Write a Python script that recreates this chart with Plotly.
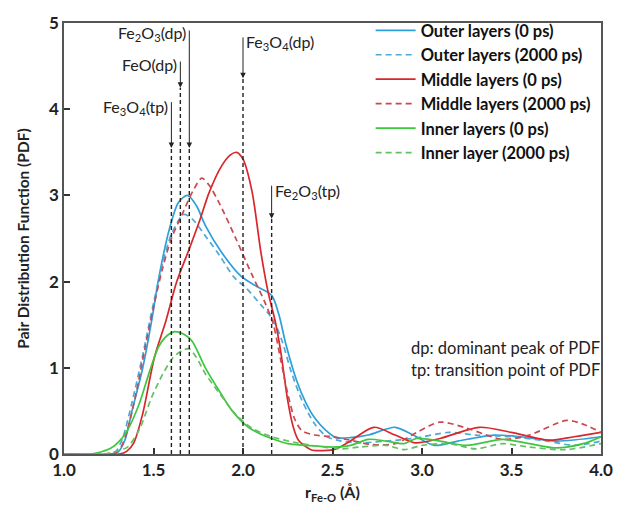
import plotly.graph_objects as go

# ---------------- data ----------------
outer_0_r = [1.0, 1.25, 1.30, 1.34, 1.38, 1.44, 1.49, 1.53, 1.59, 1.64, 1.69, 1.74, 1.79, 1.88, 1.99, 2.08, 2.16,
             2.20, 2.24, 2.30, 2.35, 2.40, 2.46, 2.52, 2.60, 2.70, 2.85, 2.95, 3.07, 3.20, 3.40, 3.55, 3.75, 4.0]
outer_0_v = [0, 0, 0.02, 0.16, 0.5, 1.0, 1.55, 2.05, 2.62, 2.92, 3.0, 2.88, 2.65, 2.34, 2.06, 1.94, 1.84,
             1.62, 1.27, 0.85, 0.6, 0.42, 0.28, 0.19, 0.19, 0.22, 0.31, 0.22, 0.1, 0.15, 0.22, 0.2, 0.15, 0.2]

outer_2000_r = [1.0, 1.25, 1.29, 1.33, 1.38, 1.44, 1.50, 1.55, 1.60, 1.67, 1.72, 1.80, 1.87, 1.95, 2.02, 2.10, 2.17,
                2.22, 2.27, 2.33, 2.40, 2.47, 2.55, 2.65, 2.80, 2.95, 3.15, 3.30, 3.50, 3.70, 3.85, 4.0]
outer_2000_v = [0, 0, 0.03, 0.2, 0.6, 1.15, 1.75, 2.2, 2.55, 2.78, 2.72, 2.5, 2.3, 2.05, 1.92, 1.73, 1.55,
                1.3, 0.95, 0.62, 0.35, 0.2, 0.15, 0.13, 0.15, 0.18, 0.25, 0.22, 0.2, 0.15, 0.1, 0.15]

middle_0_r = [1.0, 1.31, 1.35, 1.39, 1.44, 1.505, 1.57, 1.63, 1.70, 1.76, 1.81, 1.88, 1.93, 1.965, 2.0, 2.05, 2.10,
              2.14, 2.18, 2.21, 2.25, 2.28, 2.31, 2.38, 2.45, 2.52, 2.60, 2.73, 2.85, 2.96, 3.10, 3.32, 3.50, 3.71,
              3.85, 4.0]
middle_0_v = [0, 0, 0.03, 0.13, 0.47, 1.12, 1.55, 2.0, 2.38, 2.72, 3.03, 3.34, 3.47, 3.5, 3.42, 3.05, 2.34,
              1.88, 1.54, 1.2, 0.62, 0.32, 0.16, 0.05, 0.04, 0.06, 0.15, 0.31, 0.22, 0.13, 0.18, 0.31, 0.25, 0.16,
              0.2, 0.25]

middle_2000_r = [1.0, 1.27, 1.31, 1.35, 1.40, 1.45, 1.50, 1.55, 1.60, 1.66, 1.72, 1.77, 1.81, 1.87, 1.96, 2.05, 2.12,
                 2.17, 2.21, 2.25, 2.29, 2.33, 2.40, 2.50, 2.60, 2.72, 2.85, 2.97, 3.10, 3.25, 3.45, 3.60, 3.81, 3.92,
                 4.0]
middle_2000_v = [0, 0, 0.05, 0.25, 0.68, 1.2, 1.7, 2.15, 2.5, 2.78, 3.05, 3.2, 3.12, 2.9, 2.5, 2.08, 1.77,
                 1.5, 1.1, 0.7, 0.4, 0.27, 0.22, 0.2, 0.16, 0.11, 0.12, 0.25, 0.37, 0.3, 0.17, 0.22, 0.39, 0.33,
                 0.25]

inner_0_r = [1.0, 1.15, 1.20, 1.255, 1.30, 1.35, 1.42, 1.48, 1.53, 1.58, 1.62, 1.67, 1.715, 1.79, 1.865, 1.94, 2.03,
             2.10, 2.16, 2.25, 2.35, 2.50, 2.60, 2.70, 2.80, 2.90, 2.97, 3.10, 3.25, 3.45, 3.60, 3.75, 3.90, 4.0]
inner_0_v = [0, 0, 0.02, 0.06, 0.13, 0.26, 0.58, 0.97, 1.25, 1.38, 1.42, 1.39, 1.31, 1.0, 0.74, 0.5, 0.31,
             0.23, 0.18, 0.12, 0.1, 0.08, 0.1, 0.17, 0.15, 0.12, 0.18, 0.15, 0.1, 0.17, 0.12, 0.07, 0.12, 0.2]

inner_2000_r = [1.0, 1.22, 1.27, 1.32, 1.355, 1.42, 1.49, 1.55, 1.61, 1.66, 1.70, 1.74, 1.79, 1.87, 1.95, 2.05, 2.16,
                2.30, 2.45, 2.55, 2.65, 2.80, 2.90, 3.00, 3.15, 3.30, 3.45, 3.60, 3.80, 4.0]
inner_2000_v = [0, 0, 0.02, 0.05, 0.08, 0.28, 0.66, 0.92, 1.12, 1.2, 1.22, 1.12, 0.93, 0.7, 0.48, 0.3, 0.2,
                0.13, 0.08, 0.06, 0.08, 0.1, 0.05, 0.1, 0.12, 0.06, 0.12, 0.08, 0.05, 0.12]

series_names = ["Outer layers (0 ps)", "Outer layers (2000 ps)", "Middle layers (0 ps)",
                "Middle layers (2000 ps)", "Inner layers (0 ps)", "Inner layer (2000 ps)"]

# reference phases: position, label, arrow tail, arrow tip, label y, side
ref_r = [1.60, 1.65, 1.70, 2.00, 2.16]
ref_labels = ["Fe<sub>3</sub>O<sub>4</sub>(tp)", "FeO(dp)", "Fe<sub>2</sub>O<sub>3</sub>(dp)",
              "Fe<sub>3</sub>O<sub>4</sub>(dp)", "Fe<sub>2</sub>O<sub>3</sub>(tp)"]
ref_tail = [4.10, 4.57, 4.93, 4.85, 3.13]
ref_tip = [3.55, 4.25, 3.55, 4.36, 2.73]
ref_label_y = [4.02, 4.52, 4.88, 4.77, 3.04]
ref_side = ["left", "left", "left", "right", "right"]

notes = ["dp: dominant peak of PDF", "tp: transition point of PDF"]

x_ticks = [1.0, 1.5, 2.0, 2.5, 3.0, 3.5, 4.0]
y_ticks = [0, 1, 2, 3, 4, 5]

# ---------------- figure ----------------
FONT = "Lato"
blue, red, green = "#2E9FDA", "#D9262B", "#3DC73D"
styles = [(blue, "solid"), ("#4FA9D6", "dash"), (red, "solid"), ("#CC4850", "dash"),
          (green, "solid"), ("#62C062", "dash")]
data = [(outer_0_r, outer_0_v), (outer_2000_r, outer_2000_v), (middle_0_r, middle_0_v),
        (middle_2000_r, middle_2000_v), (inner_0_r, inner_0_v), (inner_2000_r, inner_2000_v)]

fig = go.Figure()
for i, ((r, v), (col, dash)) in enumerate(zip(data, styles)):
    fig.add_trace(go.Scatter(
        x=r, y=v, mode="lines", name=series_names[i],
        line=dict(color=col, width=1.7, dash="6px,4px" if dash == "dash" else "solid",
                  shape="spline", smoothing=0.8)))

shapes = []
annotations = []
for r, lab, tail, tip, ly, side in zip(ref_r, ref_labels, ref_tail, ref_tip, ref_label_y, ref_side):
    shapes.append(dict(type="line", xref="x", yref="y", x0=r, x1=r, y0=0, y1=tip,
                       line=dict(color="#222", width=1.4, dash="4px,3px")))
    annotations.append(dict(x=r, y=tip, ax=r, ay=tail, xref="x", yref="y", axref="x", ayref="y",
                            text="", showarrow=True, arrowhead=2, arrowsize=1.1, arrowwidth=1,
                            arrowcolor="#222"))
    annotations.append(dict(x=r, y=ly, xref="x", yref="y", text=lab, showarrow=False,
                            xanchor="right" if side == "left" else "left",
                            xshift=-1 if side == "left" else 1,
                            font=dict(family=FONT, size=16, color="#222")))

for k, note in enumerate(notes):
    annotations.append(dict(x=2.93, y=1.23 - 0.26 * k, xref="x", yref="y", text=note,
                            showarrow=False, xanchor="left",
                            font=dict(family=FONT, size=16.5, color="#222")))

axis_common = dict(showgrid=False, zeroline=False, showline=True, linecolor="#555", linewidth=1.5,
                   mirror=True, ticks="inside", ticklen=6, tickwidth=1.5, tickcolor="#333",
                   tickfont=dict(family=FONT, size=17, color="#222", weight="bold"))

fig.update_layout(
    width=625, height=513,
    margin=dict(l=64, r=20, t=19, b=59),
    paper_bgcolor="white", plot_bgcolor="white",
    shapes=shapes, annotations=annotations,
    legend=dict(x=0.571, y=1.023, xanchor="left", yanchor="top", bgcolor="rgba(0,0,0,0)",
                itemwidth=40, tracegroupgap=0,
                font=dict(family=FONT, size=16.5, color="#111", weight="bold")),
    xaxis=dict(range=[1.0, 4.0], tickvals=x_ticks, ticktext=[f"{t:.1f}" for t in x_ticks],
               title=dict(text="r<sub>Fe-O</sub> (Å)", standoff=8,
                          font=dict(family=FONT, size=16, color="#222", weight="bold")),
               **axis_common),
    yaxis=dict(range=[0, 5], tickvals=y_ticks,
               title=dict(text="Pair Distribution Function (PDF)", standoff=16,
                          font=dict(family=FONT, size=15.5, color="#222", weight="bold")),
               **axis_common),
)

fig.write_html("out.html")
